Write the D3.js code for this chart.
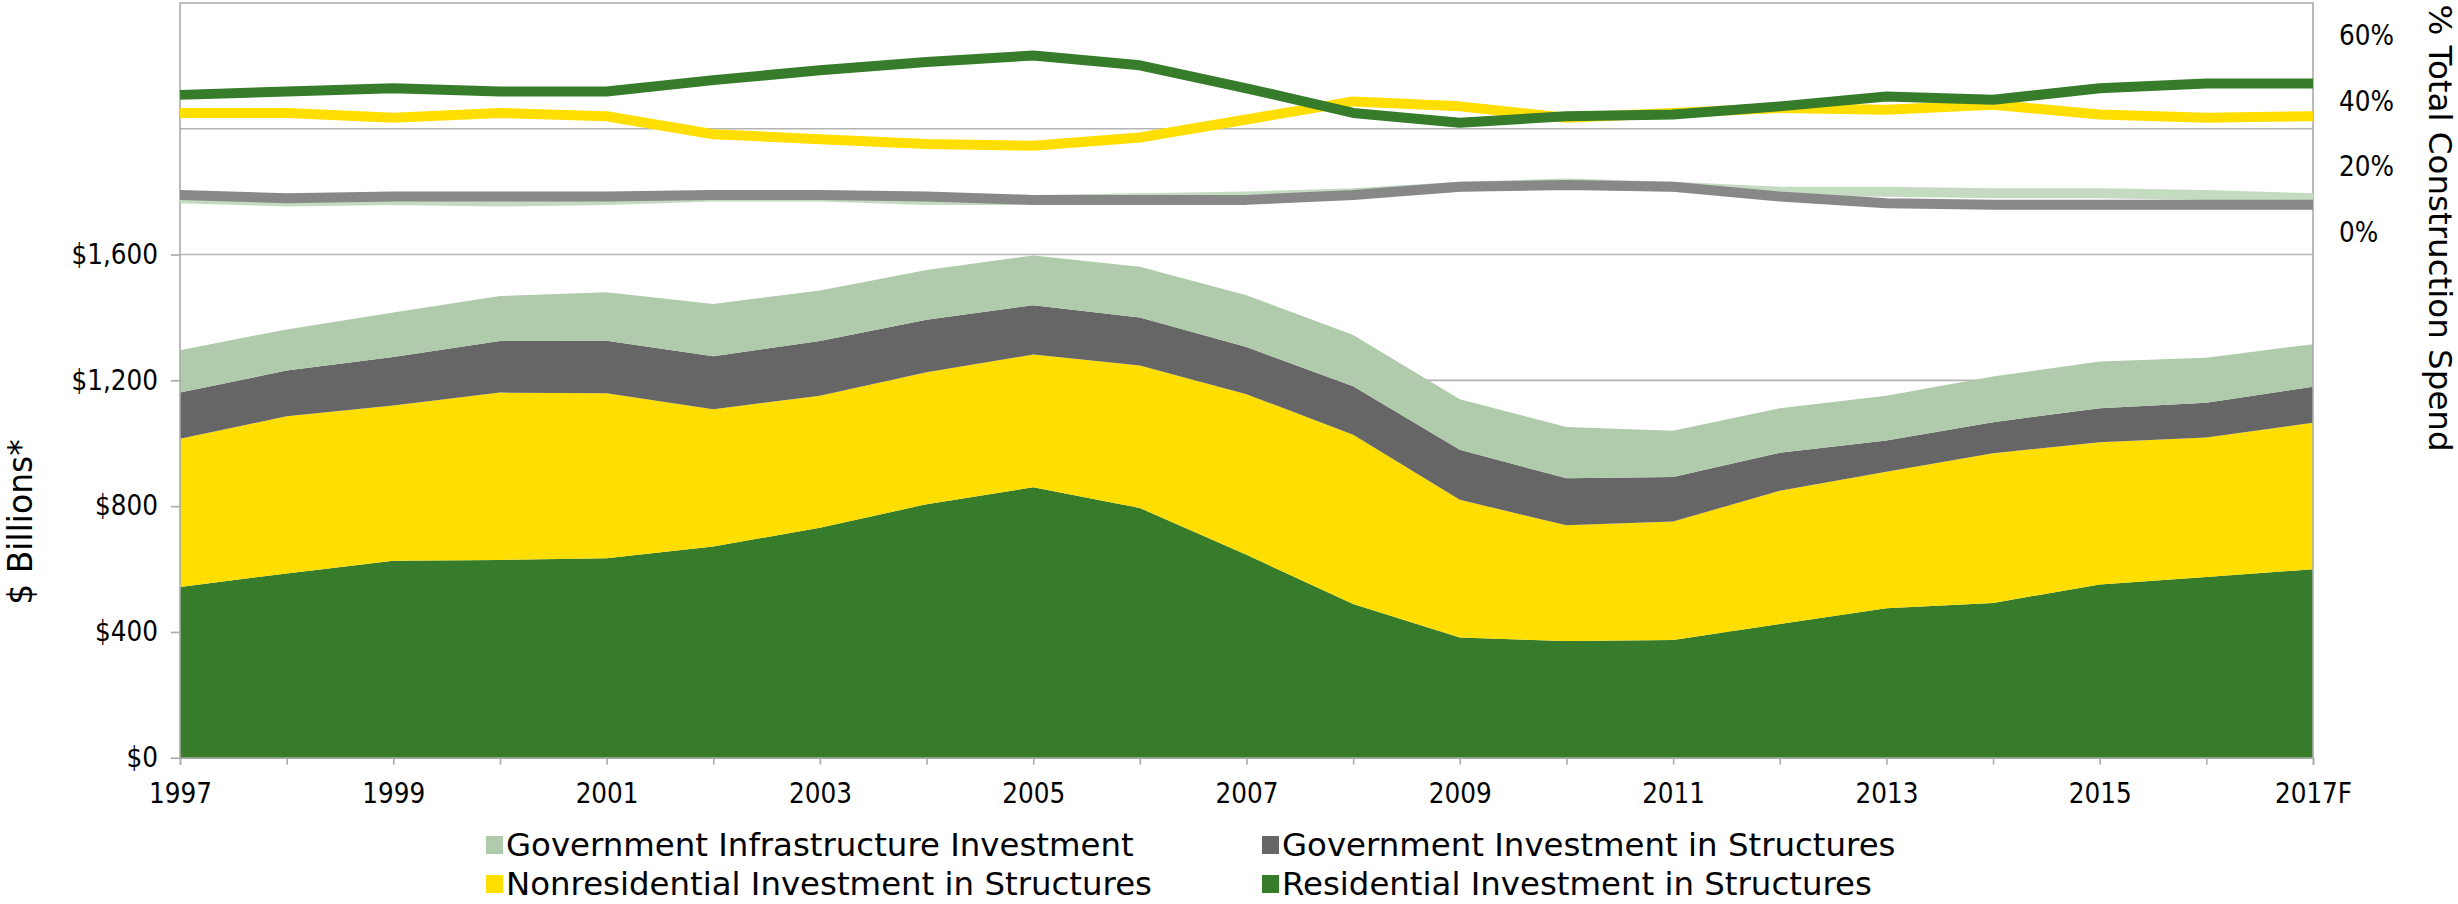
<!DOCTYPE html>
<html><head><meta charset="utf-8">
<script src="https://cdn.jsdelivr.net/npm/d3@7"></script>
<style>
html,body{margin:0;padding:0;background:#fff;}
svg{display:block;}
.tick-lbl{font-family:"DejaVu Sans Condensed","DejaVu Sans",sans-serif;font-stretch:condensed;font-size:27.5px;fill:#000;}
.title{font-family:"DejaVu Sans",Verdana,sans-serif;fill:#000;}
.legend{font-family:"DejaVu Sans",Verdana,sans-serif;font-size:32.4px;fill:#000;}
</style></head>
<body>
<svg id="chart" width="2458" height="904"></svg>
<script>
// ---------- data ----------
const years = ["1997","1998","1999","2000","2001","2002","2003","2004","2005","2006","2007",
               "2008","2009","2010","2011","2012","2013","2014","2015","2016","2017F"];
// $ billions (stacked areas)
const residential    = [543,586,626,629,634,672,731,806,860,794,645,489,382,371,374,425,475,492,551,575,599];
const nonresidential = [471,500,494,532,525,436,420,420,422,453,511,538,438,368,377,424,434,476,452,443,466];
const govStructures  = [147,145,154,164,167,169,174,167,157,153,150,154,159,150,142,121,100, 99,108,111,115];
const govInfra       = [135,131,142,143,154,166,161,158,158,161,165,163,161,163,147,141,142,145,149,143,135];
// % of total construction spend (lines, right axis)
const residentialShare    = [0.42,0.43,0.44,0.43,0.43,0.465,0.495,0.52,0.54,0.51,0.44,0.365,0.335,0.355,0.36,0.385,0.415,0.405,0.44,0.455,0.455];
const nonresidentialShare = [0.365,0.365,0.35,0.365,0.355,0.30,0.285,0.27,0.265,0.29,0.345,0.40,0.385,0.35,0.365,0.38,0.375,0.39,0.36,0.35,0.355];
const govStructuresShare  = [0.115,0.105,0.11,0.11,0.11,0.115,0.115,0.11,0.10,0.10,0.10,0.115,0.14,0.145,0.14,0.11,0.09,0.085,0.085,0.085,0.085];
const govInfraShare       = [0.105,0.095,0.10,0.095,0.10,0.11,0.11,0.10,0.10,0.105,0.11,0.12,0.14,0.15,0.14,0.125,0.125,0.12,0.12,0.115,0.105];
const leftTicks  = [0,400,800,1200,1600];
const gridValues = [400,800,1200,1600,2000];
const rightTicks = [0,0.2,0.4,0.6];
const seriesNames = ["Government Infrastructure Investment","Government Investment in Structures",
                     "Nonresidential Investment in Structures","Residential Investment in Structures"];
const areaColors = {res:"#367c2b", nonres:"#ffde00", govS:"#666666", infra:"#b0cbab"};
const lineColors = {res:"#367c2b", nonres:"#ffde00", govS:"#888888", infra:"#c4dbc1"};

// ---------- layout ----------
const L = 180, R = 2313, T = 3, B = 757.7;
const svg = d3.select("#chart");
const x = d3.scalePoint().domain(years).range([L, R]);
const yL = d3.scaleLinear().domain([0, 2400]).range([B, T]);
const yR = d3.scaleLinear().domain([-1.6, 0.7]).range([B, T]);

const table = years.map((y, i) => ({year: y, res: residential[i], nonres: nonresidential[i], govS: govStructures[i], infra: govInfra[i]}));
const stack = d3.stack().keys(["res","nonres","govS","infra"])(table);

// gridlines
svg.append("g").selectAll("line").data(gridValues).join("line")
  .attr("x1", L).attr("x2", R).attr("y1", d => yL(d)).attr("y2", d => yL(d))
  .attr("stroke", "#b4b4b4").attr("stroke-width", 1.6);

// areas
const area = d3.area().x(d => x(d.data.year)).y0(d => yL(d[0])).y1(d => yL(d[1]));
svg.append("g").selectAll("path").data(stack).join("path")
  .attr("d", area).attr("fill", d => areaColors[d.key]);

// plot border (top, right, left)
svg.append("path")
  .attr("d", `M${L},${B} V${T} H${R} V${B}`)
  .attr("fill", "none").attr("stroke", "#aaaaaa").attr("stroke-width", 1.6);

// lines
const shareSeries = [
  {key:"infra", vals: govInfraShare},
  {key:"govS", vals: govStructuresShare},
  {key:"nonres", vals: nonresidentialShare},
  {key:"res", vals: residentialShare}
];
const line = d3.line().x((d, i) => x(years[i])).y(d => yR(d));
svg.append("g").selectAll("path").data(shareSeries).join("path")
  .attr("d", d => line(d.vals)).attr("fill", "none")
  .attr("stroke", d => lineColors[d.key]).attr("stroke-width", 10)
  .attr("stroke-linejoin", "round");

// x axis
const xAxis = d3.axisBottom(x).tickSize(7).tickPadding(12)
  .tickFormat((d, i) => i % 2 === 0 ? d : "");
const gx = svg.append("g").attr("transform", `translate(0,${B})`).call(xAxis);
gx.select(".domain").attr("stroke", "#aaaaaa").attr("stroke-width", 1.6);
gx.selectAll(".tick line").attr("stroke", "#aaaaaa").attr("stroke-width", 1.6);
gx.selectAll("text").attr("class", "tick-lbl").attr("dy", "0.95em");

// left axis
const yAxis = d3.axisLeft(yL).tickValues(leftTicks).tickSize(9).tickPadding(13)
  .tickFormat(d => "$" + d3.format(",")(d));
const gy = svg.append("g").attr("transform", `translate(${L},0)`).call(yAxis);
gy.select(".domain").remove();
gy.selectAll(".tick line").attr("stroke", "#aaaaaa").attr("stroke-width", 1.6);
gy.selectAll("text").attr("class", "tick-lbl");

// right axis
const yAxisR = d3.axisRight(yR).tickValues(rightTicks).tickSize(0).tickPadding(26)
  .tickFormat(d3.format(".0%"));
const gr = svg.append("g").attr("transform", `translate(${R},0)`).call(yAxisR);
gr.select(".domain").remove();
gr.selectAll("text").attr("class", "tick-lbl");

// axis titles
svg.append("text").attr("class", "title").style("font-size", "33px")
  .attr("transform", "translate(20,522) rotate(-90)")
  .attr("text-anchor", "middle").attr("dominant-baseline", "central")
  .text("$ Billions*");
svg.append("text").attr("class", "title").style("font-size", "32.5px")
  .attr("transform", "translate(2440,228) rotate(90)")
  .attr("text-anchor", "middle").attr("dominant-baseline", "central")
  .text("% Total Construction Spend");

// legend
const legendItems = [
  {name: seriesNames[0], color: areaColors.infra, lx: 486, ly: 845},
  {name: seriesNames[1], color: areaColors.govS, lx: 1262, ly: 845},
  {name: seriesNames[2], color: areaColors.nonres, lx: 486, ly: 884},
  {name: seriesNames[3], color: areaColors.res, lx: 1262, ly: 884}
];
const lg = svg.append("g").selectAll("g").data(legendItems).join("g")
  .attr("transform", d => `translate(${d.lx},${d.ly})`);
lg.append("rect").attr("x", 0).attr("y", -9).attr("width", 17).attr("height", 18).attr("fill", d => d.color);
lg.append("text").attr("class", "legend").attr("x", 20).attr("y", 0)
  .attr("dominant-baseline", "central").text(d => d.name);
</script>
</body></html>
